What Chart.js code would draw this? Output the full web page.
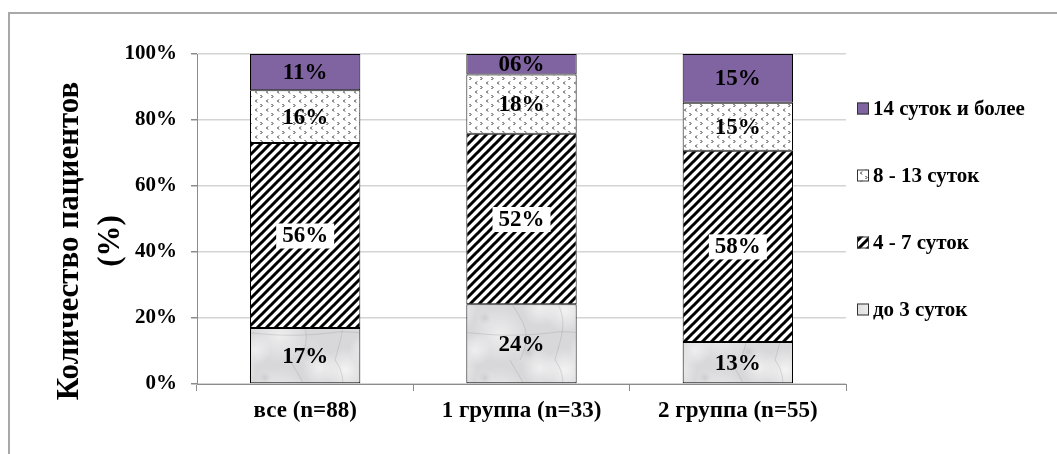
<!DOCTYPE html>
<html>
<head>
<meta charset="utf-8">
<script src="https://cdn.jsdelivr.net/npm/chart.js@4"></script>
<style>
html, body { margin: 0; padding: 0; background: #fff; overflow: hidden; }
#wrap { position: relative; width: 1057px; height: 454px; }
#frame { position: absolute; left: 8px; top: 12px; width: 1100px; height: 500px;
  border-top: 2px solid #a9a9a9; border-left: 2px solid #a9a9a9; }
canvas { position: absolute; left: 0; top: 0; }
</style>
</head>
<body>
<div id="wrap">
  <div id="frame"></div>
  <canvas id="chart" width="1057" height="454"></canvas>
</div>
<script>
const categories = ['все (n=88)', '1 группа (n=33)', '2 группа (n=55)']
const seriesNames = ['до 3 суток', '4 - 7 суток', '8 - 13 суток', '14 суток и более']
const upTo3 = [17, 24.2, 12.7]
const days4to7 = [56, 51.6, 58.0]
const days8to13 = [16, 18.0, 14.5]
const days14plus = [11, 6.2, 14.8]
const yTicks = [0, 20, 40, 60, 80, 100]
const yTitle = ['Количество пациентов', '(%)']

const SERIF = "'Liberation Serif', 'Times New Roman', serif"

function tile(w, h, draw) {
    const c = document.createElement('canvas')
    c.width = w
    c.height = h
    const g = c.getContext('2d')
    draw(g, w, h)
    return document.getElementById('chart').getContext('2d').createPattern(c, 'repeat')
}

// light grey "marble" (blobs wrap round the tile edges so there is no seam)
const marble = tile(110, 60, (g, w, h) => {
    g.fillStyle = '#d8d8da'
    g.fillRect(0, 0, w, h)
    const blobs = [
        [15, 10, 22, 'rgba(255,255,255,0.7)'],
        [60, 35, 28, 'rgba(255,255,255,0.55)'],
        [100, 8, 18, 'rgba(255,255,255,0.6)'],
        [35, 50, 16, 'rgba(250,250,252,0.65)'],
        [88, 52, 14, 'rgba(185,185,188,0.45)'],
        [45, 18, 10, 'rgba(180,180,184,0.4)']
    ]
    blobs.forEach(b => {
        for (let ox = -w; ox <= w; ox += w) {
            for (let oy = -h; oy <= h; oy += h) {
                const cx = b[0] + ox, cy = b[1] + oy
                const r = g.createRadialGradient(cx, cy, 0, cx, cy, b[2])
                r.addColorStop(0, b[3])
                r.addColorStop(1, 'rgba(255,255,255,0)')
                g.fillStyle = r
                g.fillRect(0, 0, w, h)
            }
        }
    })
    g.lineCap = 'round'
    g.strokeStyle = 'rgba(150,150,155,0.3)'
    g.lineWidth = 1
    g.beginPath()
    g.moveTo(5, 0); g.bezierCurveTo(20, 20, 10, 40, 5, 60)
    g.moveTo(70, 0); g.bezierCurveTo(80, 20, 95, 30, 80, 60)
    g.moveTo(0, 33); g.bezierCurveTo(25, 28, 45, 40, 110, 33)
    g.stroke()
})

// thick "/" stripes
const stripes = tile(9, 9, (g, w, h) => {
    g.fillStyle = '#fff'
    g.fillRect(0, 0, w, h)
    g.strokeStyle = '#000'
    g.lineWidth = 3
    g.beginPath()
    g.moveTo(-1, 10); g.lineTo(10, -1)
    g.moveTo(-2, 2); g.lineTo(2, -2)
    g.moveTo(7, 11); g.lineTo(11, 7)
    g.stroke()
})

// small < > marks
const marks = tile(11, 9, (g, w, h) => {
    g.fillStyle = '#fff'
    g.fillRect(0, 0, w, h)
    g.strokeStyle = '#222'
    g.lineWidth = 1
    g.beginPath()
    g.moveTo(4, 0.5); g.lineTo(2.5, 2); g.lineTo(4, 3.5)
    g.moveTo(7.5, 5); g.lineTo(9, 6.5); g.lineTo(7.5, 8)
    g.stroke()
})

const fills = [marble, stripes, marks, '#8064a2']
const seriesData = [upTo3, days4to7, days8to13, days14plus]

const extras = {
    id: 'extras',
    afterDatasetsDraw(chart) {
        const ctx = chart.ctx
        const area = chart.chartArea
        ctx.save()

        // values inside the segments
        ctx.font = 'bold 23px ' + SERIF
        ctx.textAlign = 'center'
        ctx.textBaseline = 'middle'
        chart.data.datasets.forEach((ds, di) => {
            chart.getDatasetMeta(di).data.forEach((bar, i) => {
                const txt = String(Math.round(ds.data[i])).padStart(2, '0') + '%'
                const y = (bar.y + bar.base) / 2
                if (di === 1) {
                    const tw = ctx.measureText(txt).width
                    ctx.fillStyle = '#fff'
                    ctx.fillRect(bar.x - tw / 2 - 6, y - 12, tw + 12, 25)
                }
                ctx.fillStyle = '#000'
                ctx.fillText(txt, bar.x, y + 1)
            })
        })

        // legend, top item first
        ctx.font = 'bold 21px ' + SERIF
        ctx.textAlign = 'left'
        const mid = (area.top + area.bottom) / 2 - 10
        const step = 67
        const n = chart.data.datasets.length
        for (let k = 0; k < n; k++) {
            const ds = chart.data.datasets[n - 1 - k]
            const cy = mid + (k - (n - 1) / 2) * step
            const bx = area.right + 11
            ctx.fillStyle = ds.backgroundColor
            ctx.fillRect(bx, cy - 6, 12, 12)
            ctx.strokeStyle = '#333'
            ctx.lineWidth = 1
            ctx.strokeRect(bx + 0.5, cy - 5.5, 11, 11)
            ctx.fillStyle = '#000'
            ctx.fillText(ds.label, bx + 16, cy + 1)
        }

        // rotated y title
        ctx.font = 'bold 31px ' + SERIF
        ctx.textAlign = 'center'
        ctx.translate(70, (area.top + area.bottom) / 2 + 22)
        ctx.rotate(-Math.PI / 2)
        yTitle.forEach((line, i) => ctx.fillText(line, 0, i * 41))

        ctx.restore()
    }
}

new Chart(document.getElementById('chart'), {
    type: 'bar',
    data: {
        labels: categories,
        datasets: seriesNames.map((name, i) => ({
            label: name,
            data: seriesData[i],
            backgroundColor: fills[i],
            borderColor: '#000',
            borderWidth: 1,
            borderSkipped: false,
            categoryPercentage: 1,
            barPercentage: 0.51
        }))
    },
    options: {
        responsive: false,
        animation: false,
        events: [],
        layout: { padding: { left: 0, top: 54, right: 211, bottom: 0 } },
        plugins: {
            legend: { display: false },
            tooltip: { enabled: false }
        },
        scales: {
            x: {
                stacked: true,
                offset: true,
                afterFit: s => { s.height = 70 },
                grid: { drawOnChartArea: false, drawTicks: true, tickLength: 7, tickColor: '#8c8c8c' },
                border: { color: '#8c8c8c', width: 1 },
                ticks: { color: '#000', padding: 6, font: { family: SERIF, size: 23, weight: 'bold' } }
            },
            y: {
                stacked: true,
                min: 0,
                max: 100,
                afterFit: s => { s.width = 197 },
                afterBuildTicks: s => { s.ticks = yTicks.map(v => ({ value: v })) },
                grid: { color: '#d4d4d4', lineWidth: 1.5, tickLength: 6, tickColor: '#8c8c8c' },
                border: { color: '#8c8c8c', width: 1 },
                ticks: {
                    color: '#000',
                    padding: 14,
                    callback: v => v + '%',
                    font: { family: SERIF, size: 21, weight: 'bold' }
                }
            }
        }
    },
    plugins: [extras]
})
</script>
</body>
</html>
